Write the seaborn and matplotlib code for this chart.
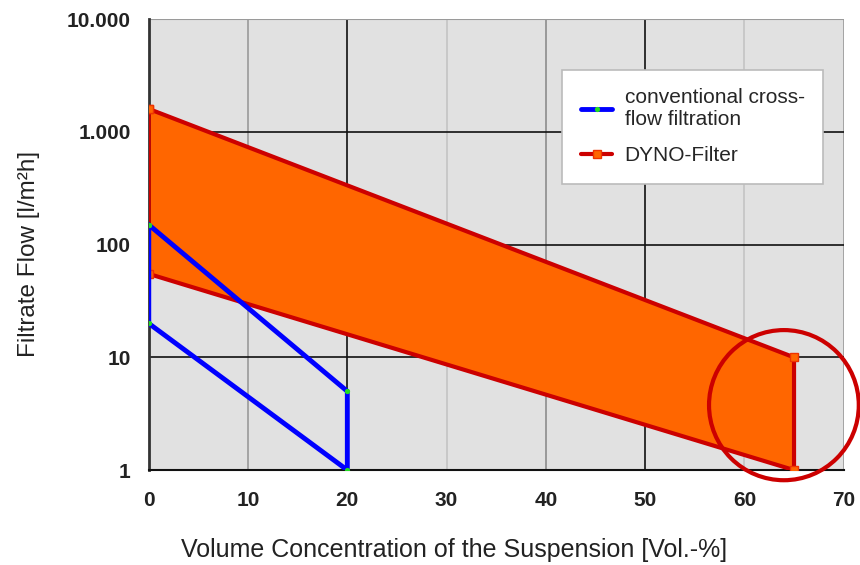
import numpy as np
import pandas as pd
import matplotlib
matplotlib.use("Agg")
import matplotlib.pyplot as plt
from matplotlib.patches import Ellipse
from matplotlib.ticker import FixedLocator, FixedFormatter
import seaborn as sns

# Umriss der Bereiche (geschlossene Polygone): Konzentration [Vol.-%], Filtratfluss [l/m²h]
conv_x = [0, 20, 20, 0, 0]
conv_y = [150, 5, 1, 20, 150]
dyno_x = [0, 65, 65, 0, 0]
dyno_y = [1600, 10, 1, 55, 1600]

x_ticks = [0, 10, 20, 30, 40, 50, 60, 70]
y_ticks = [1, 10, 100, 1000, 10000]
y_tick_labels = ["1", "10", "100", "1.000", "10.000"]

conv_label = "conventional cross-\nflow filtration"
dyno_label = "DYNO-Filter"

df_conv = pd.DataFrame({"x": conv_x, "y": conv_y})
df_dyno = pd.DataFrame({"x": dyno_x, "y": dyno_y})

sns.set_style("white")
plt.rcParams['font.family'] = ['Liberation Sans', 'DejaVu Sans']

fig = plt.figure(figsize=(8.6, 5.65), dpi=100)
ax = fig.add_axes([0.173, 0.168, 0.808, 0.798])
ax.set_facecolor('#e1e1e1')

# Gitterlinien (wie im Original teils schwarz, teils grau)
v_colors = {10: '#9a9a9a', 20: '#111111', 30: '#c4c4c4', 40: '#8c8c8c',
            50: '#111111', 60: '#c4c4c4', 70: '#9a9a9a'}
for xv, c in v_colors.items():
    ax.axvline(xv, color=c, linewidth=1.2, zorder=0.5)
for yv in [10, 100, 1000]:
    ax.axhline(yv, color='#111111', linewidth=1.2, zorder=0.5)
ax.axhline(10000, color='#9a9a9a', linewidth=1.5, zorder=0.5)

# DYNO-Filter: orange Fläche mit rotem Rand
ax.fill(df_dyno['x'], df_dyno['y'], color='#ff6600', zorder=2, linewidth=0)
sns.lineplot(data=df_dyno, x='x', y='y', sort=False, estimator=None, ax=ax,
             color='#cc0000', linewidth=3, marker='s', markersize=6,
             markerfacecolor='#ff6600', markeredgecolor='#ee3300',
             markeredgewidth=1, label=dyno_label, zorder=3)

# konventionelle Cross-Flow-Filtration: blauer Umriss
sns.lineplot(data=df_conv, x='x', y='y', sort=False, estimator=None, ax=ax,
             color='#0000ff', linewidth=3.5, marker='o', markersize=3,
             markerfacecolor='#22dd22', markeredgecolor='#22dd22',
             label=conv_label, zorder=4)

ax.set_yscale('log')
ax.set_xlim(0, 70)
ax.set_ylim(1, 10000)
ax.xaxis.set_major_locator(FixedLocator(x_ticks))
ax.yaxis.set_major_locator(FixedLocator(y_ticks))
ax.yaxis.set_major_formatter(FixedFormatter(y_tick_labels))
ax.yaxis.set_minor_locator(FixedLocator([]))
ax.tick_params(axis='both', direction='out', length=6, width=1.5, color='#111111',
               labelsize=15, pad=9)
ax.tick_params(axis='y', pad=7)
for lbl in ax.get_xticklabels() + ax.get_yticklabels():
    lbl.set_fontweight('bold')
    lbl.set_color('#222222')

for s in ['top', 'right']:
    ax.spines[s].set_visible(False)
ax.spines['left'].set_color('#333333')
ax.spines['left'].set_linewidth(2)
ax.spines['bottom'].set_color('#111111')
ax.spines['bottom'].set_linewidth(1.5)

ax.set_xlabel('Volume Concentration of the Suspension [Vol.-%]', fontsize=18,
              color='#222222')
ax.xaxis.set_label_coords(0.44, -0.15)
ax.set_ylabel('Filtrate Flow [l/m²h]', fontsize=17.5, color='#222222')
ax.yaxis.set_label_coords(-0.157, 0.48)

# Legende in umgekehrter Reihenfolge (konventionell zuerst)
handles, labels = ax.get_legend_handles_labels()
leg = ax.legend(handles[::-1], labels[::-1], loc='upper left',
                bbox_to_anchor=(0.595, 0.888), fontsize=15, frameon=True,
                fancybox=False, edgecolor='#bbbbbb', facecolor='white',
                framealpha=1, handlelength=1.5, labelspacing=0.8,
                borderpad=0.9, handletextpad=0.6, borderaxespad=0)
leg.get_frame().set_linewidth(1.2)
leg.set_zorder(5)

# roter Kreis zur Hervorhebung
circ = Ellipse((0.914, 0.144), 0.2155, 0.333, transform=ax.transAxes,
               fill=False, edgecolor='#cc0000', linewidth=3, clip_on=False, zorder=6)
ax.add_patch(circ)

fig.savefig('out.png', dpi=100)
